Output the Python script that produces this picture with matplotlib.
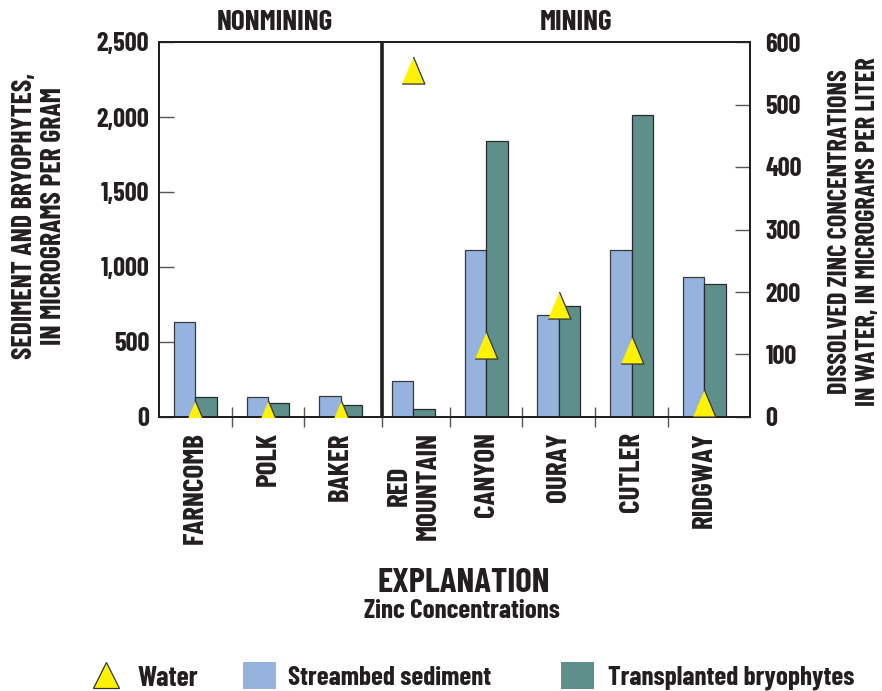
import matplotlib
matplotlib.use("Agg")
import matplotlib.pyplot as plt
import numpy as np
from matplotlib.lines import Line2D
from matplotlib.patches import Rectangle

plt.rcParams['font.family'] = ['Barlow Condensed', 'DejaVu Sans']
plt.rcParams['font.weight'] = 'bold'

# Zinc concentrations by site
sitios = ['FARNCOMB', 'POLK', 'BAKER', 'RED\nMOUNTAIN', 'CANYON', 'OURAY', 'CUTLER', 'RIDGWAY']
sedimento = [630, 130, 140, 240, 1110, 680, 1110, 930]      # microgramas por grama
briofitas = [130, 90, 80, 50, 1840, 740, 2010, 885]         # microgramas por grama
agua = [5, 5, 5, 555, 115, 180, 108, 22]                    # microgramas por litro

cor_texto = '#231f20'
cor_sed = '#95b3de'
cor_brio = '#5f8f8b'
cor_agua = '#fff200'

W, H = 882, 691
fig = plt.figure(figsize=(W / 100, H / 100), dpi=100)

def px(x, y):
    return x / W, 1 - y / H

ax = fig.add_axes([159 / W, 1 - 417 / H, (750 - 159) / W, (417 - 42) / H])
ax2 = ax.twinx()

x = np.arange(len(sitios))
larg = 0.295
ax.bar(x - larg / 2, sedimento, larg, color=cor_sed, edgecolor='#3a3a3a', linewidth=0.9, zorder=2)
ax.bar(x + larg / 2, briofitas, larg, color=cor_brio, edgecolor='#2a2a2a', linewidth=0.9, zorder=2)

# marcador triangular um pouco mais alto que largo
tri = [(-0.42, -0.5), (0.42, -0.5), (0.0, 0.5)]
ax2.plot(x, agua, linestyle='none', marker=tri, markersize=19.5,
         markerfacecolor=cor_agua, markeredgecolor='#333333', markeredgewidth=0.9, zorder=5)

ax.set_xlim(-0.5, 7.63)
ax.set_ylim(0, 2500)
ax2.set_ylim(0, 600)
ax.set_yticks([0, 500, 1000, 1500, 2000, 2500])
ax.set_yticklabels(['0', '500', '1,000', '1,500', '2,000', '2,500'])
ax2.set_yticks([0, 100, 200, 300, 400, 500, 600])

# divisao entre locais sem e com mineracao
divisa = 2.57

ax.set_xticks(x)
ax.set_xticklabels(sitios, rotation=90, va='top', ha='center')
for lbl in ax.get_xticklabels():
    lbl.set_multialignment('center')
limites = [0.5, 1.5, divisa, 3.5, 4.5, 5.5, 6.5]
ax.set_xticks(limites, minor=True)

ax.tick_params(axis='x', which='major', length=0, pad=11, labelsize=21, colors=cor_texto)
ax.tick_params(axis='x', which='minor', direction='inout', length=15, width=1, color='#555555')
ax.tick_params(axis='y', direction='in', length=11, width=1, pad=7, labelsize=19,
               labelcolor=cor_texto, color='#555555')
ax2.tick_params(axis='y', direction='in', length=11, width=1, pad=11, labelsize=19,
                labelcolor=cor_texto, color='#555555')
ax2.tick_params(axis='x', which='both', length=0)

for a in (ax, ax2):
    for lado in a.spines.values():
        lado.set_linewidth(1.4)
        lado.set_color('#231f20')

ax.axvline(divisa, color='#231f20', linewidth=2.6, zorder=3)

fig.text(*px(275, 23), 'NONMINING', ha='center', va='center', fontsize=21, color=cor_texto)
fig.text(*px(576, 23), 'MINING', ha='center', va='center', fontsize=21, color=cor_texto)

fig.text(*px(39, 216), 'SEDIMENT AND BRYOPHYTES,\nIN MICROGRAMS PER GRAM',
         rotation=90, ha='center', va='center', multialignment='center',
         fontsize=20, linespacing=1.2, color=cor_texto)
fig.text(*px(854, 232), 'DISSOLVED ZINC CONCENTRATIONS\nIN WATER, IN MICROGRAMS PER LITER',
         rotation=90, ha='center', va='center', multialignment='center',
         fontsize=19, linespacing=1.2, color=cor_texto)

# legenda
fig.text(*px(464, 583), 'EXPLANATION', ha='center', va='center', fontsize=25, color=cor_texto)
fig.text(*px(462, 611), 'Zinc Concentrations', ha='center', va='center', fontsize=19.5, color=cor_texto)

fig.add_artist(Line2D([105.5 / W], [1 - 675 / H], transform=fig.transFigure, marker='^',
                      markersize=19, markerfacecolor=cor_agua, markeredgecolor='#333333',
                      markeredgewidth=0.9, linestyle='none'))
fig.text(*px(137, 678), 'Water', ha='left', va='center', fontsize=20, color=cor_texto)
fig.add_artist(Rectangle(px(243, 689), 33 / W, 27 / H, transform=fig.transFigure,
                         facecolor=cor_sed, edgecolor='none'))
fig.text(*px(288, 678), 'Streambed sediment', ha='left', va='center', fontsize=19.5, color=cor_texto)
fig.add_artist(Rectangle(px(561, 689), 33 / W, 27 / H, transform=fig.transFigure,
                         facecolor=cor_brio, edgecolor='none'))
fig.text(*px(608, 678), 'Transplanted bryophytes', ha='left', va='center', fontsize=19.5, color=cor_texto)

fig.savefig('out.png', dpi=100, facecolor='white')
